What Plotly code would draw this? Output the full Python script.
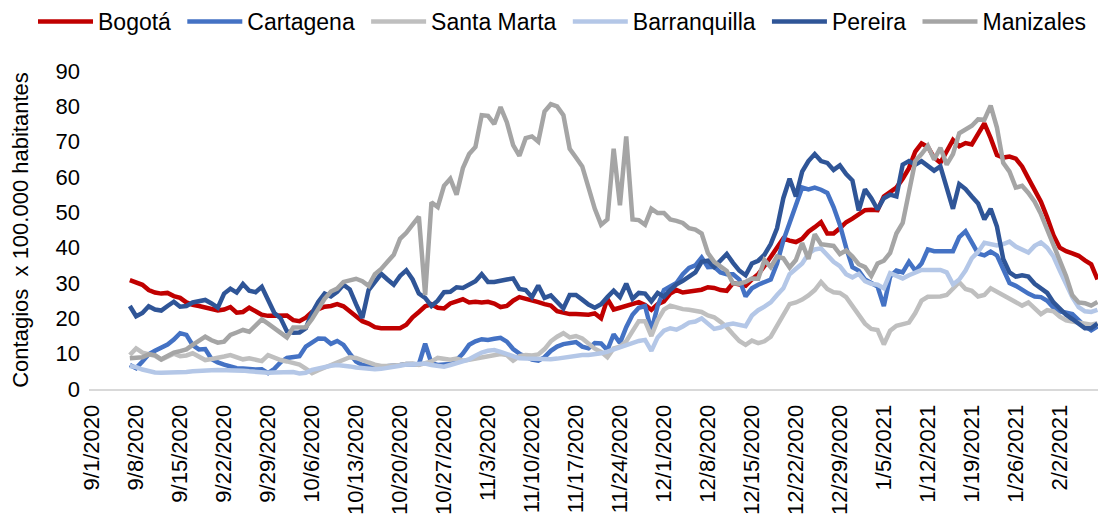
import pandas as pd
import plotly.graph_objects as go

start_date = "2020-09-07"

bogota = [30.8,30.3,29.5,28,27.3,27,27.2, 26.3,25.8,24.5,23.8,23.5,23,22.7, 22.2,22.5,23.2,21.6,21.8,23,22,
          21,20.7,20.8,21,20.8,19.5,19.2, 20.2,21.8,22.6,23.3,23.5,24,23.4, 22,20.2,19.2,18.5,17.5,17.2,17.1,
          17.2,17.2,18.2,20.3,21.8,23.4,24, 23,22.8,24.2,24.8,25.4,24.5,24.7, 24.5,24.7,24.2,23.2,23.5,25,26,
          25.6,25.1,24.6,24,23.6,22,21.6, 21.2,21.2,21.1,21,21.4,20,25.5, 22.5,23,23.5,24,24.6,23.8,22.4,
          24,24.8,27,28,27.3,27.5,28, 28.1,28.8,28.6,28,27.8,30,29.6, 29.2,31,32.5,34.8,37.5,40,42.6,
          42,41.6,42.5,44.5,45.8,47.2,44, 44,45.5,47.2,48.2,49.5,50.6,50.7, 50.6,54.5,55.8,57,59.5,62.5,67.2,
          69.5,68.5,65.5,64,67.5,70.5,68.7, 69.6,69.2,72.5,75.2,71,66.2,65.5, 65.8,65.2,63,59.6,56.5,53,48.5,
          43.5,40,39,38.4,37.7,36.4,35.3, 31]

cartagena = [6.8,5.9,7.8,9.8,10.8,11.8,12.6, 14,15.8,15.3,12.4,11.2,11.3,8.5, 7.5,6.9,6.3,5.9,5.8,5.6,5.5,
             5.6,4.5,5.7,7.6,8.8,9.2,9.3, 12,13.2,14.3,14.2,12.8,13.6,12.5, 10,7.8,6.8,6.5,6.4,6.3,6.4,
             6.5,6.8,7.1,7.2,7,12.8,7.3, 6.8,7,7.1,8.2,10,12.5,13.5, 14.1,13.9,14.2,14.5,13.4,11.3,10,
             9.2,8.3,8,9,10.8,12,12.7, 12.9,13.3,12,11.5,13,12.9,11, 15.5,13,17.5,21,23,23.5,16.5,
             23.5,28,29,30,32.5,34.3,35, 37.2,34.5,34.6,33,32.5,32.5,31, 26.2,28.5,29.5,30.2,31,35.5,42,
             47,52.5,57,56.5,57,56.4,55.5, 51.5,46.5,40,34.5,33.5,31,30, 29,23.5,31.8,33.5,33,36,33.5,
             35.5,39.5,39,39,38.8,39,43, 44.6,41.5,38.3,37.8,38.9,37.8,34, 30,29.2,28,27,26.2,26,25,
             23,22,21.6,21.2,19.5,17.8,16.6, 17.7]

santa_marta = [9.6,11.5,10.3,10,9.4,8.3,9, 10,9.3,9.5,10.1,9,8.2,8.5, 8.7,9.2,9.6,9,8.4,8.7,8.2,
               7.9,9.6,8.8,8.2,7.8,7.3,6.9, 5.8,4.5,5.3,6,6.8,7.7,8.3, 9,8.8,8,7.5,6.9,6.5,6.5,
               6.5,6.8,7.1,7.2,6.8,7.3,7.8, 8.8,8.7,8.3,8.6,8,8.3,8.6, 8.8,9.3,9.6,9.9,9.6,8,9.3,
               9.6,9.5,9.8,11.3,13.5,14.8,15.8, 14.6,15,14.3,12.8,11.4,10.5,9, 11.5,12,13.5,16.5,19.2,19.2,15,
               19.5,22.5,23.6,23,22.6,22.4,22.2, 21.8,20.8,20.3,19,17.5,15.5,13.6, 12.5,13.7,13,13.5,14.8,17.8,21,
               24,24.5,25.3,26.5,28,30.3,28.3, 27.4,27.2,26,23.5,21,18.5,17, 16.7,12.6,16.5,17.9,18.3,18.8,21.5,
               25,26.1,26,26.2,26.6,28.2,30.2, 28.3,27.8,26.2,26.6,28.5,27.5,26.3, 25.3,24.5,23.6,24.5,22.8,21.2,22.3,
               22,20.5,19.4,19.1,18.8,18.3,18.2, 18.6]

barranquilla = [6.5,6.2,5.5,5,4.7,4.6,4.6, 4.6,4.7,4.8,5,5.2,5.3,5.3, 5.4,5.4,5.4,5.4,5.2,5,4.8,
                4.7,4.6,4.7,4.8,4.9,4.8,4.4, 4.6,5.4,5.9,6.3,6.6,6.8,6.7, 6.4,6.1,5.9,5.7,5.6,5.7,5.9,
                6.1,6.6,6.9,7.1,7.3,7.2,6.8, 6.6,6.3,6.8,7.3,7.8,8.4,9.4, 10.3,10.8,11,10.5,10,9.2,8.7,
                8.6,8.5,8.5,8.4,8.4,8.6,8.9, 9.2,9.3,9.6,9.6,9.7,10.1,10.6, 11.2,11.8,12.5,13,13.6,13.9,10.8,
                14.6,16.5,17.2,16.8,17.7,18.8,19.1, 20,18.5,17,17.4,18.2,18.5,18.1, 17.8,20.8,22.3,23.3,24.5,26.6,28.5,
                32.5,34,35.5,38.3,39.5,39.8,37.8, 36,34.8,32.5,31.6,32.6,30.5,29.8, 29.5,28.5,32.8,32,31.3,32.2,32.8,
                33.7,33.7,33.7,33.7,33,29.6,31, 33.5,37,38.8,41.4,41,40.6,41, 41.7,40.3,39.3,38.6,40.5,41.5,40,
                37.5,33.5,30,26,23.2,22,21.8, 22.4]

pereira = [23.5,20.6,21.5,23.4,22.5,22.2,23.5, 24.7,23.3,23.5,24.5,24.8,25.2,24.2, 23,27,28.4,27.3,29.7,27.8,27.4,
           28.9,25,21.5,20,16.3,15.9,16, 17.2,21.5,24.7,27,26.2,27.5,29.5, 28.2,24,20.1,28,30.5,32.6,31,
           29.5,32,33.6,31,27,25.8,23.5, 25,27.4,27.5,28.8,28.6,29.4,30.5, 32.5,30.3,30.3,30.8,31,31.3,28.3,
           28,26,29.3,25.8,26.5,24.5,22.8, 26.6,26.6,25.3,23.9,23,24,26, 27.8,26,29.8,25.5,27.2,27,24.8,
           27.2,26.1,28,29.6,30.6,31.8,33, 36,36.3,34.5,36.5,38.2,35.7,33.5, 32.2,35.5,36.3,38,41,45.5,54,
           59.5,54.5,61.5,64.5,66.5,64.5,64, 62,63.3,60.8,59,50.5,56.5,54, 50.8,54,55,54.5,63.5,64.5,63.5,
           64.5,63,61.8,63,56.5,51,58, 56.6,54.5,52.5,48,51,46,36.8, 33,31.8,32.2,31.8,29.8,28.4,27.2,
           24.5,22.8,21,19.8,18.3,17.2,17.2, 18.5]

manizales = [8.7,8.7,9,9.8,9.6,8.4,9.5, 10.3,10.7,11.2,12.5,13.5,14.8,13.8, 13.1,13.4,15.3,16,16.7,16.2,17.8,
             19.7,18.5,17.2,16.2,14.6,17.4,17.3, 17.5,19.8,22.6,25.5,27.6,28.4,30.3, 30.8,31.2,30.5,29.2,32.5,34,36,
             38,42.5,44.2,46.5,48.8,26.6,52.8, 51.5,57.5,59.5,55,62.5,66.5,68.5, 77.5,77.3,75,79.8,75.5,69,66,
             71,71.5,70,78.5,80.6,80,77.5, 68,65.5,63,57,51,46.5,48, 68,52,71.5,48,47.8,46.5,51,
             49.8,49.8,48,47.6,47,45.5,45.1, 44,38.5,36,34.6,33.4,29.9,29.8, 30.3,31.3,31.2,36.5,34.5,37.5,37,
             34.4,36.5,41.3,36.8,43.8,41,40.6, 40.5,38.2,39.2,37.5,35.3,34.5,32, 35.5,36.3,38.5,44,47,56,64.5,
             66.5,68.8,64.9,68.3,63.5,66.5,72.4, 73.6,74.5,76.3,76.2,80.2,74,64, 61.5,57,57.5,55.5,53,49.5,45,
             40.5,36.3,32,26.5,24.5,24.3,23.6, 24.6]

series_names = ["Bogotá", "Cartagena", "Santa Marta", "Barranquilla", "Pereira", "Manizales"]
series_values = [bogota, cartagena, santa_marta, barranquilla, pereira, manizales]
series_colors = ["#C00000", "#4472C4", "#BFBFBF", "#B4C7E7", "#2F5597", "#A5A5A5"]

tick_dates = ["2020-09-01", "2020-09-08", "2020-09-15", "2020-09-22", "2020-09-29", "2020-10-06",
              "2020-10-13", "2020-10-20", "2020-10-27", "2020-11-03", "2020-11-10", "2020-11-17",
              "2020-11-24", "2020-12-01", "2020-12-08", "2020-12-15", "2020-12-22", "2020-12-29",
              "2021-01-05", "2021-01-12", "2021-01-19", "2021-01-26", "2021-02-02"]
tick_labels = ["9/1/2020", "9/8/2020", "9/15/2020", "9/22/2020", "9/29/2020", "10/6/2020",
               "10/13/2020", "10/20/2020", "10/27/2020", "11/3/2020", "11/10/2020", "11/17/2020",
               "11/24/2020", "12/1/2020", "12/8/2020", "12/15/2020", "12/22/2020", "12/29/2020",
               "1/5/2021", "1/12/2021", "1/19/2021", "1/26/2021", "2/2/2021"]

FONT = "Liberation Sans, Arial, sans-serif"

fig = go.Figure()
for name, vals, col in zip(series_names, series_values, series_colors):
    dates = pd.date_range(start_date, periods=len(vals), freq="D")
    fig.add_trace(go.Scatter(x=dates, y=vals, name=name + "\u00a0", mode="lines",
                             line=dict(color=col, width=4.5)))

fig.update_layout(
    width=1098, height=518,
    margin=dict(l=89, r=0, t=71, b=129),
    paper_bgcolor="white", plot_bgcolor="white",
    font=dict(family=FONT, color="black"),
    showlegend=True,
    legend=dict(orientation="h", x=-0.04, xanchor="left", y=1.157, yanchor="middle",
                font=dict(size=23, family=FONT, color="black"),
                itemwidth=55, tracegroupgap=0, bgcolor="rgba(0,0,0,0)"),
    xaxis=dict(type="date", range=["2020-08-31 12:00", "2021-02-08 02:00"],
               tickmode="array", tickvals=tick_dates, ticktext=tick_labels,
               tickangle=-90, tickfont=dict(size=22, family=FONT, color="black"),
               ticklabelstandoff=5,
               showgrid=False, zeroline=False, showline=True, linecolor="#D9D9D9",
               linewidth=2, ticks=""),
    yaxis=dict(range=[0, 90], dtick=10, tick0=0, showgrid=False, zeroline=False,
               showline=False, ticks="", tickfont=dict(size=22, family=FONT, color="black"),
               ticklabelstandoff=8,
               title=dict(text="Contagios\u00a0 x 100.000 habitantes",
                          font=dict(size=22, family=FONT, color="black"), standoff=20)),
)

fig.write_html("out.html", config={"displayModeBar": False},
               post_script="document.body.style.margin='0';")
